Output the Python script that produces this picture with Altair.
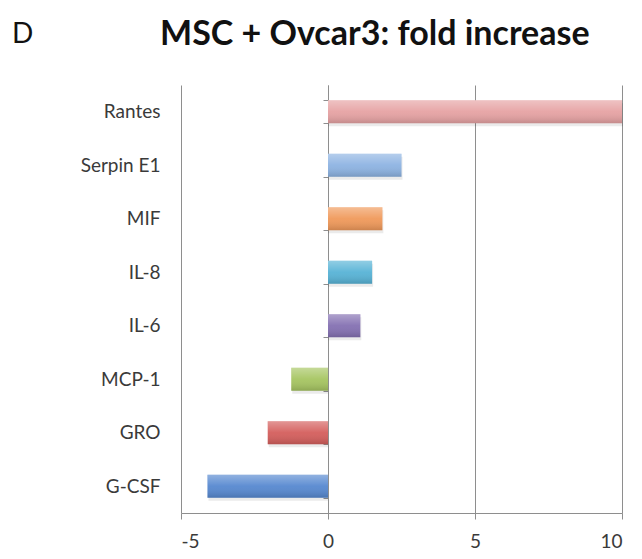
import altair as alt
import pandas as pd

categories = ["Rantes", "Serpin E1", "MIF", "IL-8", "IL-6", "MCP-1", "GRO", "G-CSF"]
values = [10.0, 2.5, 1.85, 1.5, 1.1, -1.25, -2.05, -4.1]
colors = ["#E6A2A3", "#8DB3E2", "#F0995A", "#57B3D6", "#8470B2", "#A6C561", "#D45E5C", "#5688D0"]
x_ticks = [-5, 0, 5, 10]
title_text = "MSC + Ovcar3: fold increase"
panel_letter = "D"

df = pd.DataFrame({"cat": categories, "val": values, "col": colors})

FONT = "Lato"
GRID = "#8E8E8E"
LABEL = "#3A3A3A"

y_enc = alt.Y(
    "cat:N",
    sort=categories,
    scale=alt.Scale(paddingInner=0.57, paddingOuter=0.285),
    axis=alt.Axis(
        title=None,
        offset=-147,
        domain=True,
        domainColor=GRID,
        ticks=True,
        tickBand="extent",
        tickSize=5,
        tickColor=GRID,
        labelPadding=163,
        labelFont=FONT,
        labelFontSize=19,
        labelColor=LABEL,
        grid=False,
    ),
)

x_enc = alt.X(
    "val:Q",
    scale=alt.Scale(domain=[-5, 10], nice=False, zero=False),
    axis=alt.Axis(
        title=None,
        values=x_ticks,
        labelExpr="'' + datum.value",
        grid=True,
        gridColor=GRID,
        gridOpacity=1,
        domainColor=GRID,
        tickColor=GRID,
        tickSize=6,
        labelFont=FONT,
        labelFontSize=19,
        labelColor=LABEL,
        labelPadding=13,
    ),
)

shadow = alt.Chart(df).mark_bar(color="#000000", opacity=0.08, yOffset=3, xOffset=1).encode(
    x=x_enc, x2=alt.datum(0), y=y_enc
)

bars = alt.Chart(df).mark_bar().encode(
    x=x_enc,
    x2=alt.datum(0),
    y=y_enc,
    color=alt.Color("col:N", scale=None, legend=None),
)

gloss = alt.Chart(df).mark_bar(
    color=alt.LinearGradient(
        gradient="linear",
        x1=0, x2=0, y1=0, y2=1,
        stops=[
            alt.GradientStop(color="rgba(255,255,255,0.35)", offset=0),
            alt.GradientStop(color="rgba(255,255,255,0.05)", offset=0.5),
            alt.GradientStop(color="rgba(0,0,0,0.15)", offset=1),
        ],
    )
).encode(x=x_enc, x2=alt.datum(0), y=y_enc)

letter = alt.Chart(pd.DataFrame({"t": [panel_letter]})).mark_text(
    font=FONT, fontSize=28, color="#111111", align="left", baseline="alphabetic"
).encode(x=alt.value(-169), y=alt.value(-42), text="t:N")

title = alt.Chart(pd.DataFrame({"t": [title_text]})).mark_text(
    font=FONT, fontSize=34, fontWeight="bold", color="#111111", align="left", baseline="alphabetic"
).encode(x=alt.value(-21), y=alt.value(-40), text="t:N")

chart = (
    alt.layer(shadow, bars, gloss, letter, title)
    .properties(
        width=441,
        height=428,
        autosize=alt.AutoSizeParams(type="none"),
        padding={"left": 173, "top": 77, "right": 12, "bottom": 38},
    )
    .configure_view(stroke=None)
)

chart.save("out.html", embed_options={"renderer": "svg", "actions": False})
